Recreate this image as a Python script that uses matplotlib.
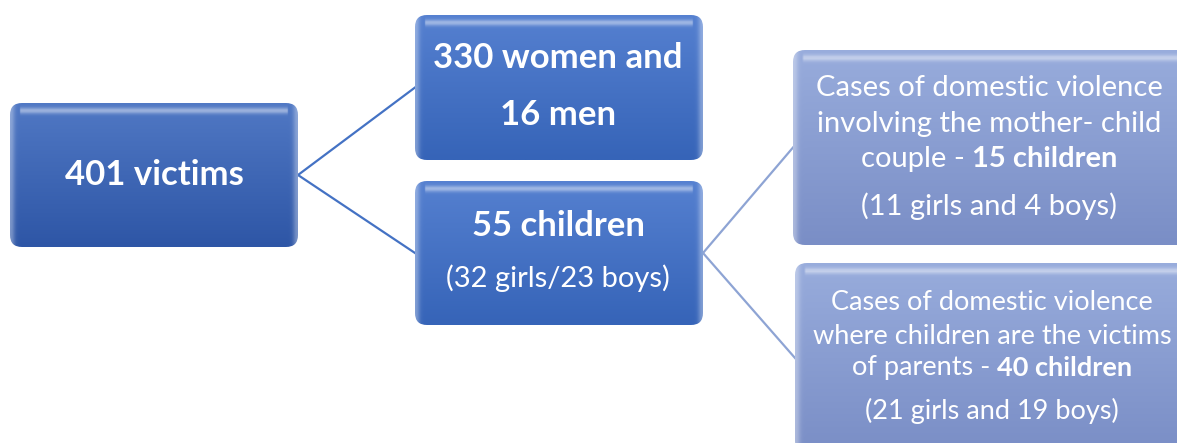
import numpy as np
import matplotlib.pyplot as plt
from matplotlib.patches import FancyBboxPatch
from matplotlib.colors import to_rgb

plt.rcParams['font.family'] = ['Lato', 'DejaVu Sans']

# boxes: left, top, width, height (pixels), colour top / bottom
box_names = ['root', 'adults', 'children', 'mother_child', 'parents']
box_x = [10, 415, 415, 793, 795]
box_y = [103, 15, 181, 50, 263]
box_w = [288, 288, 288, 400, 400]
box_h = [144, 145, 144, 195, 190]
text_cx = [154, 558, 558, 989, 992]
box_top = ['#5078c4', '#5580d0', '#5580d0', '#98acdc', '#98acdc']
box_bot = ['#2e56a6', '#3664b8', '#3664b8', '#7a8ec6', '#7a8ec6']

# text lines: (box, y, [(text, bold), ...], size)
lines = [
    (0, 175, [('401 victims', True)], 25),
    (1, 58, [('330 women and', True)], 25),
    (1, 115, [('16 men', True)], 25),
    (2, 226, [('55 children', True)], 25),
    (2, 278, [('(32 girls/23 boys)', False)], 21),
    (3, 88, [('Cases of domestic violence', False)], 21),
    (3, 124, [('involving the mother- child', False)], 21),
    (3, 159, [('couple - ', False), ('15 children', True)], 21),
    (3, 206, [('(11 girls and 4 boys)', False)], 21),
    (4, 302, [('Cases of domestic violence', False)], 19.5),
    (4, 336, [('where children are the victims', False)], 19.5),
    (4, 368, [('of parents - ', False), ('40 children', True)], 19.5),
    (4, 411, [('(21 girls and 19 boys)', False)], 19.5),
]

# connectors: from box right-middle to child box left-middle
links = [(0, 1, '#4472c4'), (0, 2, '#4472c4'), (2, 3, '#8ea4d4'), (2, 4, '#8ea4d4')]

W, H = 1177, 443
fig = plt.figure(figsize=(W / 100, H / 100), dpi=100)
ax = fig.add_axes([0, 0, 1, 1])
ax.set_xlim(0, W)
ax.set_ylim(H, 0)
ax.axis('off')

for a, b, c in links:
    x0 = box_x[a] + box_w[a]
    y0 = box_y[a] + box_h[a] / 2
    x1 = box_x[b]
    y1 = box_y[b] + box_h[b] / 2
    ax.plot([x0, x1], [y0, y1], color=c, lw=1.6, zorder=1)

for i in range(len(box_names)):
    x, y, w, h = box_x[i], box_y[i], box_w[i], box_h[i]
    patch = FancyBboxPatch((x, y), w, h, boxstyle='round,pad=0,rounding_size=12',
                           fc='none', ec='none', zorder=2)
    ax.add_patch(patch)
    ny, nx = 100, 200
    t = np.linspace(0, 1, ny)[:, None, None]
    top = np.array(to_rgb(box_top[i]))
    bot = np.array(to_rgb(box_bot[i]))
    img = top * (1 - t) + bot * t
    img = np.repeat(img, nx, axis=1)
    # glossy strip near the top and light side edges
    yy = np.linspace(0, h, ny)[:, None]
    xx = np.linspace(0, w, nx)[None, :]
    gloss = np.exp(-((yy - 7) / 3.0) ** 2) * ((xx > 10) & (xx < w - 10))
    side = np.exp(-(xx / 4.0) ** 2) + np.exp(-((w - xx) / 4.0) ** 2)
    light = np.clip(0.45 * gloss + 0.35 * side, 0, 1)[:, :, None]
    img = img * (1 - light) + light
    im = ax.imshow(img, extent=(x, x + w, y + h, y), aspect='auto',
                   interpolation='bilinear', zorder=2)
    im.set_clip_path(patch)

fig.canvas.draw()
renderer = fig.canvas.get_renderer()
for bi, ty, parts, size in lines:
    cx = text_cx[bi]
    texts = []
    for s, bold in parts:
        tx = ax.text(0, ty, s, color='white', fontsize=size,
                     fontweight='bold' if bold else 'normal',
                     ha='left', va='center', zorder=3)
        texts.append(tx)
    widths = [tx.get_window_extent(renderer).width for tx in texts]
    pos = cx - sum(widths) / 2
    for tx, wd in zip(texts, widths):
        tx.set_x(pos)
        pos += wd

fig.savefig('out.png', dpi=100)
